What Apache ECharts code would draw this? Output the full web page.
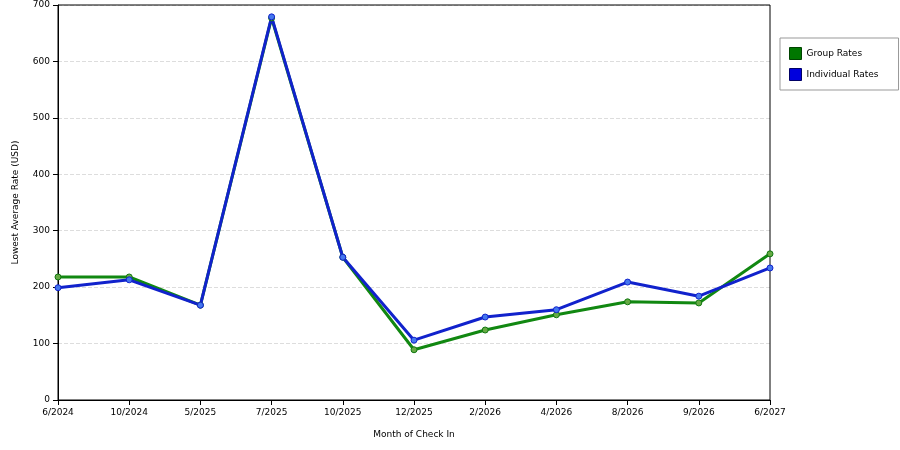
<!DOCTYPE html>
<html><head><meta charset="utf-8">
<script src="https://cdn.jsdelivr.net/npm/echarts@6/dist/echarts.min.js"></script>
<style>body{margin:0}#c{width:900px;height:450px}</style></head>
<body><div id="c"></div>
<script>
const categories=['6/2024','10/2024','5/2025','7/2025','10/2025','12/2025','2/2026','4/2026','8/2026','9/2026','6/2027'];
const groupRates=[218,218,168,677,253,89,124,151,174,172,259];
const individualRates=[199,213,168,679,253,106,147,160,209,184,234];
const ch=echarts.init(document.getElementById('c'));
const f='DejaVu Sans';
ch.setOption({
 animation:false,
 grid:{left:58,right:130,top:5,bottom:50},
 legend:{orient:'vertical',left:780,top:38,itemWidth:12,itemHeight:12,icon:'rect',
  borderColor:'#999',borderWidth:1,padding:[9,20,9,9],itemGap:8,
  textStyle:{fontFamily:f,fontSize:9,color:'#000'},
  data:[{name:'Group Rates',itemStyle:{color:'#007700',borderColor:'#004400',borderWidth:1}},
        {name:'Individual Rates',itemStyle:{color:'#0000dd',borderColor:'#000066',borderWidth:1}}]},
 xAxis:{type:'category',data:categories,boundaryGap:false,name:'Month of Check In',nameLocation:'middle',nameGap:30,
  nameTextStyle:{fontFamily:f,fontSize:9,color:'#000'},
  axisLine:{lineStyle:{color:'#000'}},axisTick:{show:true,alignWithLabel:true,lineStyle:{color:'#000'}},
  axisLabel:{fontFamily:f,fontSize:9,color:'#000'},splitLine:{show:false}},
 yAxis:{type:'value',min:0,max:700,interval:100,name:'Lowest Average Rate (USD)',nameLocation:'middle',nameGap:38,
  nameTextStyle:{fontFamily:f,fontSize:9,color:'#000'},
  axisLine:{show:true,lineStyle:{color:'#000'}},axisTick:{show:true,lineStyle:{color:'#000'}},
  axisLabel:{fontFamily:f,fontSize:9,color:'#000'},
  splitLine:{lineStyle:{color:'#ddd',type:'dashed'}}},
 series:[
  {name:'Group Rates',type:'line',data:groupRates,color:'#007700',symbol:'circle',symbolSize:6,
   lineStyle:{width:3,color:'#118811'},itemStyle:{color:'#66aa44',borderColor:'#117711',borderWidth:1}},
  {name:'Individual Rates',type:'line',data:individualRates,color:'#0000dd',symbol:'circle',symbolSize:6,
   lineStyle:{width:3,color:'#1122cc'},itemStyle:{color:'#4477ee',borderColor:'#1122cc',borderWidth:1}}
 ]
});
ch.getZr().add(new echarts.graphic.Rect({shape:{x:58,y:5,width:712,height:395},style:{fill:'none',stroke:'#000',lineWidth:1},silent:true}));
</script></body></html>
